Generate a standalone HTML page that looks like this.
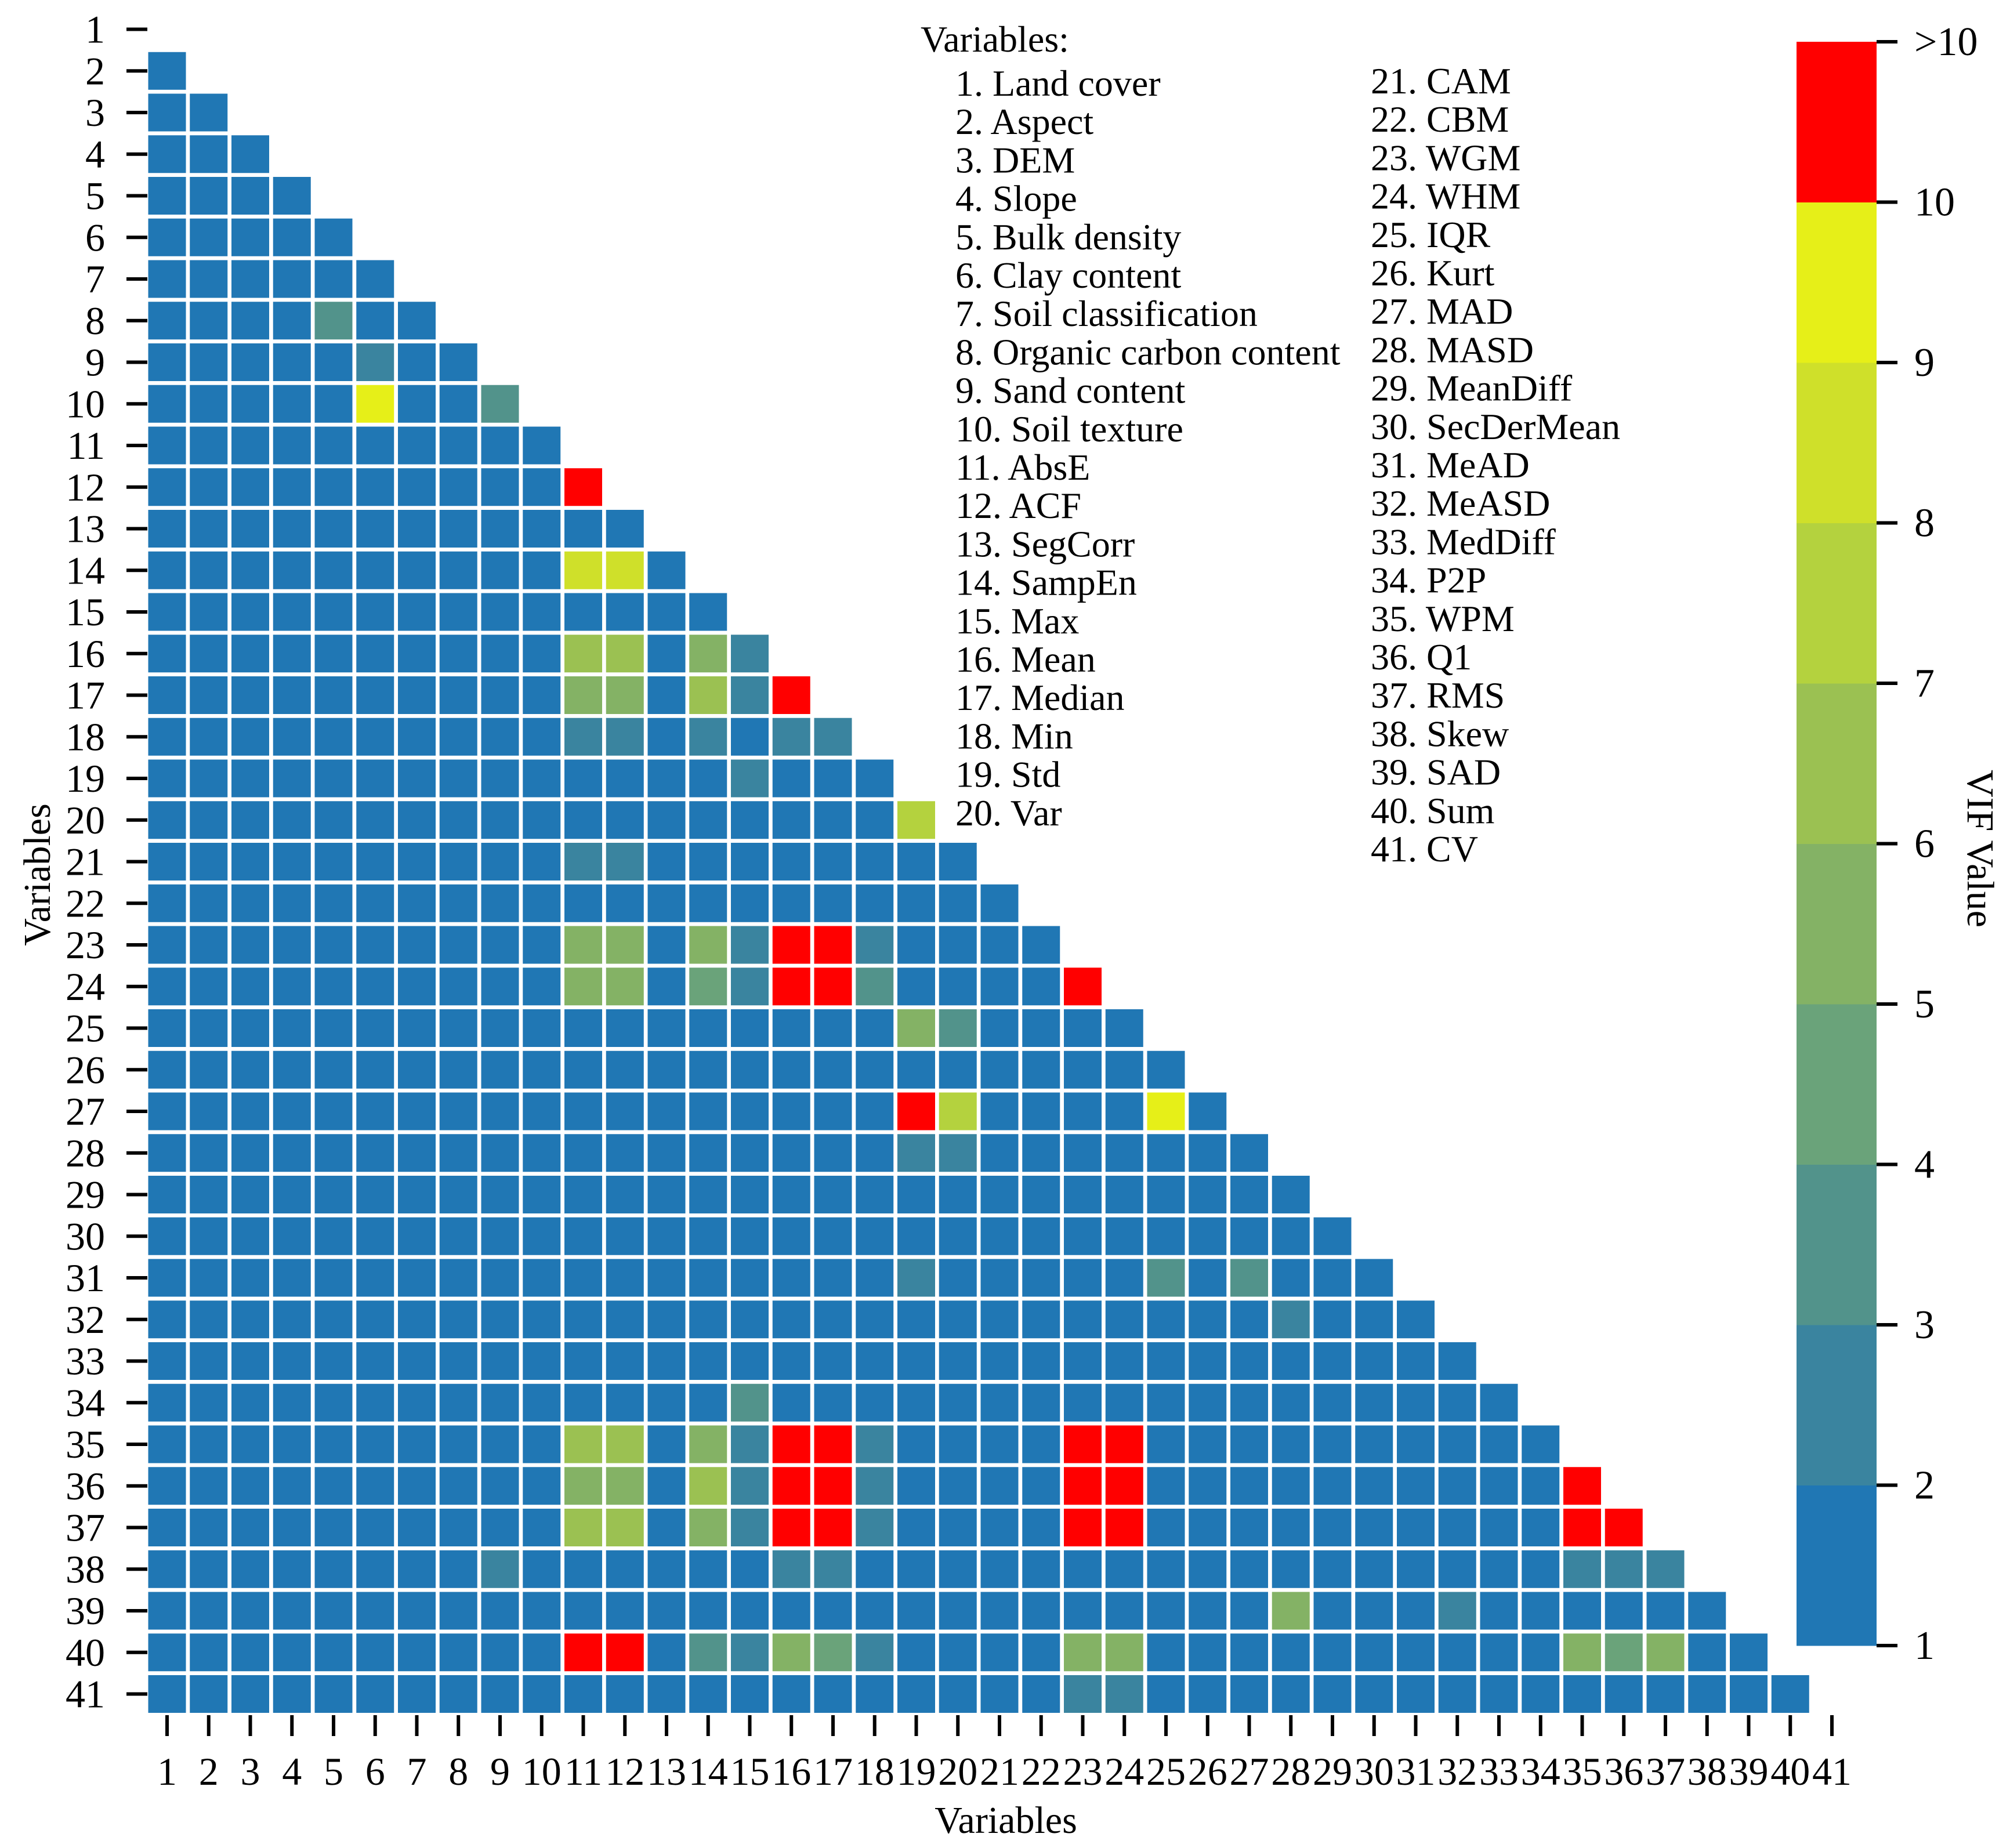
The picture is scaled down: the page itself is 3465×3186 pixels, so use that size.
<!DOCTYPE html>
<html><head><meta charset="utf-8">
<style>
html,body{margin:0;padding:0;background:#fff;}
svg{display:block;font-family:"Liberation Serif",serif;}
</style></head>
<body>
<svg id="chart" width="3465" height="3186" viewBox="0 0 3465 3186" xmlns="http://www.w3.org/2000/svg">
<g id="cells"></g>
<g id="yticks"></g>
<g id="xticks"></g>
<g id="cbar"></g>
<g id="legend"></g>
<text x="1734" y="3160" font-size="66" text-anchor="middle">Variables</text>
<text transform="translate(86,1508) rotate(-90)" font-size="66" text-anchor="middle">Variables</text>
<text transform="translate(3392,1463) rotate(90)" font-size="66" text-anchor="middle">VIF Value</text>
</svg>
<script>
// ---- data ----
const nVars = 41;
const baseVIF = 1.5;
const cellRow = [8,9,10,10,12,14,14,16,16,16,16,17,17,17,17,17,18,18,18,18,18,19,20,21,21,23,23,23,23,23,23,23,24,24,24,24,24,24,24,24,25,25,27,27,27,28,28,31,31,31,32,34,35,35,35,35,35,35,35,35,35,36,36,36,36,36,36,36,36,36,36,37,37,37,37,37,37,37,37,37,37,37,37,38,38,38,38,38,38,39,39,40,40,40,40,40,40,40,40,40,40,40,40,41,41];
const cellCol = [5,6,6,9,11,11,12,11,12,14,15,11,12,14,15,16,11,12,14,16,17,15,19,11,12,11,12,14,15,16,17,18,11,12,14,15,16,17,18,23,19,20,19,20,25,19,20,19,25,27,28,15,11,12,14,15,16,17,18,23,24,11,12,14,15,16,17,18,23,24,35,11,12,14,15,16,17,18,23,24,35,36,15,9,16,17,35,36,37,28,32,11,12,14,15,16,17,18,23,24,35,36,37,23,24];
const cellVIF = [3.5,2.5,9.5,3.5,12,8.5,8.5,6.5,6.5,5.5,2.5,5.5,5.5,6.5,2.5,12,2.5,2.5,2.5,2.5,2.5,2.5,7.5,2.5,2.5,5.5,5.5,5.5,2.5,12,12,2.5,5.5,5.5,4.5,2.5,12,12,3.5,12,5.5,3.5,12,7.5,9.5,2.5,2.5,2.5,3.5,3.5,2.5,3.5,6.5,6.5,5.5,2.5,12,12,2.5,12,12,5.5,5.5,6.5,2.5,12,12,2.5,12,12,12,6.5,6.5,5.5,2.5,12,12,2.5,12,12,12,12,2.5,2.5,2.5,2.5,2.5,2.5,2.5,5.5,2.5,12,12,3.5,2.5,5.5,4.5,2.5,5.5,5.5,5.5,4.5,5.5,2.5,2.5];
const cbTickLabels = ["1","2","3","4","5","6","7","8","9","10",">10"];
const binColors = ["#2077b4","#3a849f","#52938b","#6aa37a","#84b265","#9bc152","#b4d23e","#cfe02a","#e6ef18","#ff0000"];
const varNames = ["Land cover","Aspect","DEM","Slope","Bulk density","Clay content","Soil classification","Organic carbon content","Sand content","Soil texture","AbsE","ACF","SegCorr","SampEn","Max","Mean","Median","Min","Std","Var","CAM","CBM","WGM","WHM","IQR","Kurt","MAD","MASD","MeanDiff","SecDerMean","MeAD","MeASD","MedDiff","P2P","WPM","Q1","RMS","Skew","SAD","Sum","CV"];

// ---- scales ----
const NS="http://www.w3.org/2000/svg";
const gx0=255.5, gy0=18, pitch=71.75, cs=65;
function xPos(c){return gx0+(c-1)*pitch;}
function yPos(r){return gy0+(r-1)*pitch;}
function bin(v){return v>10?9:Math.max(0,Math.min(8,Math.floor(v-1)));}
const cbTop=72, cbBot=2837, cbL=3097, cbR=3235;
function cbY(i){return cbBot-i*(cbBot-cbTop)/10;}
function mk(tag,attrs,parent){const e=document.createElementNS(NS,tag);for(const k in attrs)e.setAttribute(k,attrs[k]);parent.appendChild(e);return e;}

const vals={};
for(let r=2;r<=nVars;r++)for(let c=1;c<r;c++)vals[r+"_"+c]=baseVIF;
for(let i=0;i<cellRow.length;i++)vals[cellRow[i]+"_"+cellCol[i]]=cellVIF[i];

const gCells=document.getElementById('cells');
for(let r=2;r<=nVars;r++)for(let c=1;c<r;c++){
  const v=vals[r+"_"+c];
  const el=mk('rect',{x:xPos(c),y:yPos(r),width:cs,height:cs,fill:binColors[bin(v)]},gCells);
  
  
}
const gy=document.getElementById('yticks');
for(let r=1;r<=nVars;r++){
  const yc=yPos(r)+cs/2;
  const t=mk('rect',{x:218,y:yc-3,width:36,height:6,fill:'#000'},gy);
  
  
  const l=mk('text',{x:181,y:yc+23,'font-size':68,'text-anchor':'end'},gy);
  l.textContent=String(r);
  
  
}
const gxx=document.getElementById('xticks');
for(let c=1;c<=nVars;c++){
  const xc=xPos(c)+cs/2;
  const t=mk('rect',{x:xc-3,y:2957,width:6,height:36,fill:'#000'},gxx);
  
  
  const l=mk('text',{x:xc,y:3077,'font-size':68,'text-anchor':'middle'},gxx);
  l.textContent=String(c);
  
  
}
const gcb=document.getElementById('cbar');
for(let i=0;i<10;i++){
  const s=mk('rect',{x:cbL,y:cbY(i+1),width:cbR-cbL,height:cbY(i)-cbY(i+1)+0.5,fill:binColors[i]},gcb);
  
  
}
for(let i=0;i<cbTickLabels.length;i++){
  const y=cbY(i);
  const t=mk('rect',{x:cbR,y:y-3,width:36,height:6,fill:'#000'},gcb);
  
  
  const l=mk('text',{x:3300,y:y+23,'font-size':70},gcb);
  l.textContent=cbTickLabels[i];
  
  
}
const gl=document.getElementById('legend');
const lt=mk('text',{x:1587,y:89,'font-size':64},gl);
lt.textContent='Variables:';


for(let i=0;i<varNames.length;i++){
  const col=i<20?0:1, k=col?i-20:i;
  const l=mk('text',{x:col?2363:1647,y:(col?161:165)+k*66.2,'font-size':64},gl);
  l.textContent=(i+1)+'. '+varNames[i];
  
  
}
</script>
</body></html>
